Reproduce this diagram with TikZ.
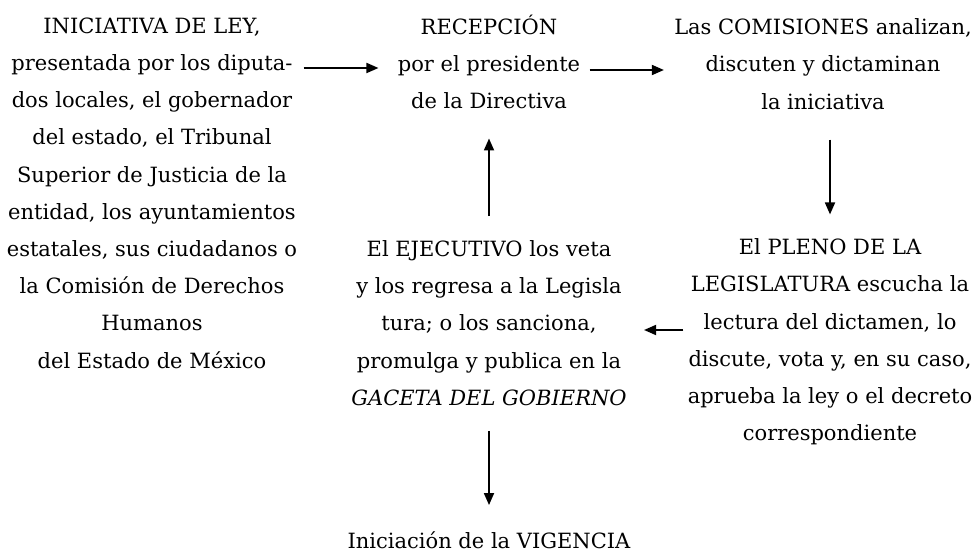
\documentclass[tikz,border=0pt]{standalone}
\usepackage{fontspec}
\setmainfont{DejaVu Serif}
\usetikzlibrary{arrows.meta}

\begin{document}
\begin{tikzpicture}[x=0.5pt, y=-0.5pt, >={Triangle[length=6pt, width=5pt]},
  paso/.style={align=center, inner sep=0pt, font=\fontsize{10.5}{18.6}\selectfont},
  flow/.style={->, line width=0.9pt}
]
\useasboundingbox (0,0) rectangle (978,555);
\node[paso] (ini) at (152,193) {INICIATIVA DE LEY,\\presentada por los diputa-\\dos locales, el gobernador\\del estado, el Tribunal\\Superior de Justicia de la\\entidad, los ayuntamientos\\estatales, sus ciudadanos o\\la Comisión de Derechos\\Humanos\\del Estado de México};
\node[paso] (rec) at (489,62) {RECEPCIÓN\\por el presidente\\de la Directiva};
\node[paso] (com) at (823,64) {Las COMISIONES analizan,\\discuten y dictaminan\\la iniciativa};
\node[paso] (ple) at (830,342) {El PLENO DE LA\\LEGISLATURA escucha la\\lectura del dictamen, lo\\discute, vota y, en su caso,\\aprueba la ley o el decreto\\correspondiente};
\node[paso] (eje) at (489,323) {El EJECUTIVO los veta\\y los regresa a la Legisla\\tura; o los sanciona,\\promulga y publica en la\\\textit{GACETA DEL GOBIERNO}};
\node[paso] (vig) at (489,540) {Iniciación de la VIGENCIA};

\draw[flow] ([xshift=3pt, yshift=-3pt]rec.west -| ini.east) -- ([xshift=-9.5pt, yshift=-3pt]rec.west);
\draw[flow] ([xshift=4.5pt, yshift=-4pt]rec.east) -- ([xshift=-5pt, yshift=-4pt]rec.east -| com.west);
\draw[flow] ([yshift=-15pt]com.south -| ple.north) -- ([yshift=12pt]ple.north);
\draw[flow] ([xshift=-2pt, yshift=6pt]ple.west) -- ([xshift=8.5pt, yshift=6pt]ple.west -| eje.east);
\draw[flow] ([yshift=12pt]eje.north) -- ([yshift=-14.5pt]rec.south);
\draw[flow] ([yshift=-12.5pt]eje.south) -- ([yshift=13pt]vig.north);
\end{tikzpicture}
\end{document}
